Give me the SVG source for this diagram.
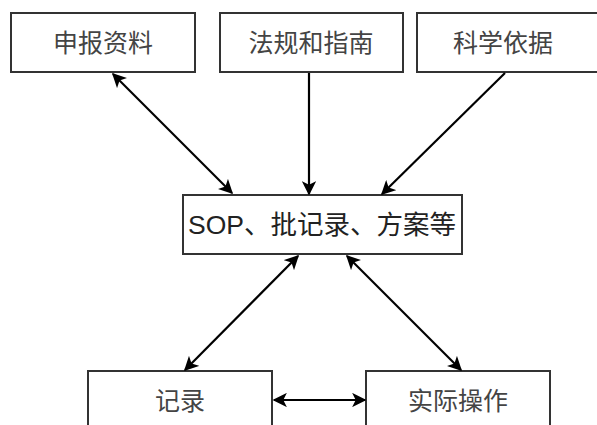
<svg xmlns="http://www.w3.org/2000/svg" width="597" height="425" viewBox="0 0 597 425">
<style>
.box{fill:#fff;stroke:#333;stroke-width:2}
.lbl{font-family:"Liberation Sans","Noto Sans CJK SC",sans-serif;font-size:25px;fill:#444;text-anchor:middle}
.con{stroke:#000;stroke-width:2.2;fill:none}
</style>
<defs>
<marker id="ah" viewBox="0 0 10 10" refX="9" refY="5" markerWidth="6.5" markerHeight="6.5" orient="auto-start-reverse" markerUnits="strokeWidth">
<path d="M0,0 L10,5 L0,10 L2.5,5 Z" fill="#000"/>
</marker>
</defs>
<rect width="597" height="425" fill="#fff"/>
<g id="n1"><rect class="box" x="11" y="13" width="184" height="59"/><text class="lbl" x="103" y="52">申报资料</text></g>
<g id="n2"><rect class="box" x="220" y="13" width="183" height="59"/><text class="lbl" x="311" y="52">法规和指南</text></g>
<g id="n3"><rect class="box" x="417" y="13" width="190" height="59"/><text class="lbl" x="503" y="52">科学依据</text></g>
<g id="n4"><rect class="box" x="183" y="195" width="279" height="59"/><text class="lbl" x="322" y="234" style="font-size:26.5px;fill:#222">SOP、批记录、方案等</text></g>
<g id="n5"><rect class="box" x="88" y="371" width="184" height="70"/><text class="lbl" x="180" y="410">记录</text></g>
<g id="n6"><rect class="box" x="366" y="371" width="184" height="70"/><text class="lbl" x="458" y="410">实际操作</text></g>
<g id="connectors">
<line class="con" x1="113" y1="74" x2="232" y2="193" marker-start="url(#ah)" marker-end="url(#ah)"/>
<line class="con" x1="309" y1="73" x2="309" y2="194" marker-end="url(#ah)"/>
<line class="con" x1="505" y1="73" x2="382" y2="194" marker-end="url(#ah)"/>
<line class="con" x1="298" y1="256" x2="185" y2="370" marker-start="url(#ah)" marker-end="url(#ah)"/>
<line class="con" x1="347" y1="256" x2="461" y2="370" marker-start="url(#ah)" marker-end="url(#ah)"/>
<line class="con" x1="274" y1="400" x2="365" y2="400" marker-start="url(#ah)" marker-end="url(#ah)"/>
</g>
</svg>
